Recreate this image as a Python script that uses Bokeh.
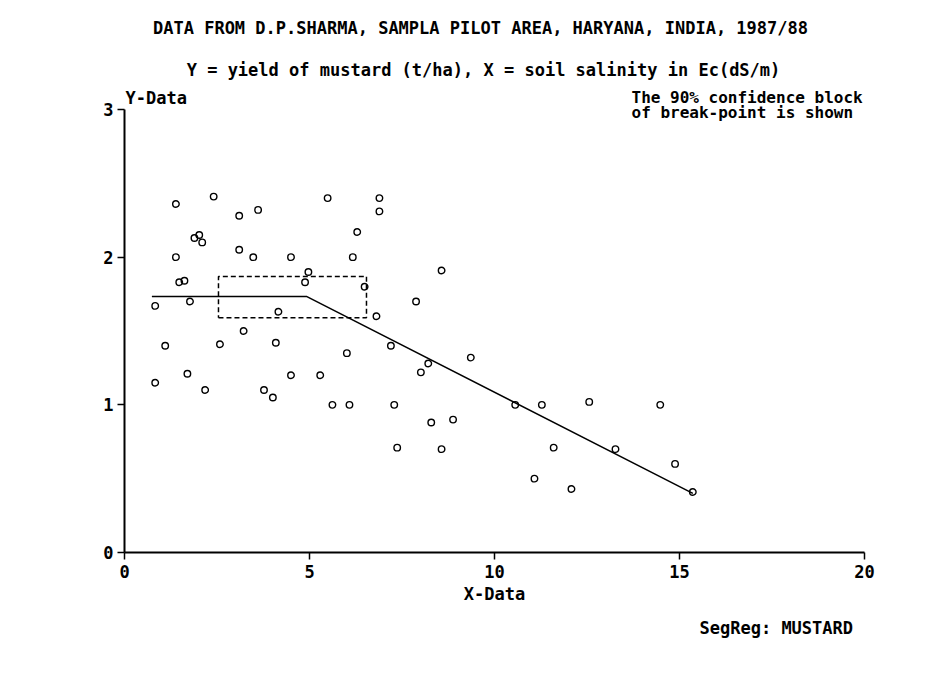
from bokeh.plotting import figure
from bokeh.models import Range1d, Label, FixedTicker, ColumnDataSource, Title
from bokeh.embed import file_html
from bokeh.resources import INLINE

# ---- data ----
salinity = [0.83, 0.83, 1.10, 1.39, 1.39, 1.48, 1.62, 1.77, 1.70, 1.89,
            2.02, 2.10, 2.18, 2.41, 2.58, 3.10, 3.10, 3.22, 3.48, 3.61,
            3.77, 4.01, 4.09, 4.16, 4.50, 4.50, 4.88, 4.97, 5.49, 5.29,
            5.62, 6.01, 6.08, 6.17, 6.29, 6.49, 6.89, 6.89, 6.81, 7.20,
            7.29, 7.37, 7.88, 8.01, 8.21, 8.29, 8.57, 8.57, 8.88, 9.36,
            10.56, 11.08, 11.28, 11.60, 12.08, 12.56, 13.27, 14.48, 14.88, 15.36]
yield_ = [1.67, 1.15, 1.40, 2.36, 2.00, 1.83, 1.84, 1.70, 1.21, 2.13,
          2.15, 2.10, 1.10, 2.41, 1.41, 2.28, 2.05, 1.50, 2.00, 2.32,
          1.10, 1.05, 1.42, 1.63, 2.00, 1.20, 1.83, 1.90, 2.40, 1.20,
          1.00, 1.35, 1.00, 2.00, 2.17, 1.80, 2.40, 2.31, 1.60, 1.40,
          1.00, 0.71, 1.70, 1.22, 1.28, 0.88, 1.91, 0.70, 0.90, 1.32,
          1.00, 0.50, 1.00, 0.71, 0.43, 1.02, 0.70, 1.00, 0.60, 0.41]

# segmented regression line vertices (start, break-point, end)
seg_x = [0.74, 4.93, 15.36]
seg_y = [1.733, 1.733, 0.40]

# 90% confidence block of the break-point
block_x = [2.54, 6.54]
block_y = [1.589, 1.869]

x_ticks = [0, 5, 10, 15, 20]
y_ticks = [0, 1, 2, 3]

title1 = "DATA FROM D.P.SHARMA, SAMPLA PILOT AREA, HARYANA, INDIA, 1987/88"
title2 = "Y = yield of mustard (t/ha), X = soil salinity in Ec(dS/m)"
note1 = "The 90% confidence block"
note2 = "of break-point is shown"
credit = "SegReg: MUSTARD"

FONT = "DejaVu Sans Mono"
FS = "17px"

# frame: x 0..20 spans canvas px 124..864; y=0 at px 552 and y=3 at px 109;
# the frame reaches the top canvas edge so the header texts are not clipped.
Y_MAX = y_ticks[-1] * 552 / (552 - 109)

p = figure(width=937, height=677, output_backend="svg", toolbar_location=None,
           x_range=Range1d(x_ticks[0], x_ticks[-1]), y_range=Range1d(0, Y_MAX),
           min_border_left=124, min_border_right=73,
           min_border_top=0, min_border_bottom=125)
p.background_fill_color = "white"
p.border_fill_color = "white"
p.outline_line_color = None
p.xgrid.visible = False
p.ygrid.visible = False

p.xaxis.ticker = FixedTicker(ticks=x_ticks)
p.yaxis.ticker = FixedTicker(ticks=y_ticks)
p.yaxis.bounds = (y_ticks[0], y_ticks[-1])
for ax in (p.xaxis, p.yaxis):
    ax.axis_line_width = 2
    ax.axis_line_color = "black"
    ax.major_tick_line_color = "black"
    ax.major_tick_line_width = 1.5
    ax.major_tick_in = 0
    ax.major_tick_out = 7
    ax.minor_tick_line_color = None
    ax.major_label_text_font = FONT
    ax.major_label_text_font_style = "bold"
    ax.major_label_text_font_size = FS
    ax.major_label_text_color = "black"
p.xaxis.major_label_standoff = 5
p.yaxis.major_label_standoff = 4
p.xaxis.axis_label = "X-Data"
p.xaxis.axis_label_text_font = FONT
p.xaxis.axis_label_text_font_style = "bold"
p.xaxis.axis_label_text_font_size = FS
p.xaxis.axis_label_text_color = "black"
p.xaxis.axis_label_standoff = 3

# regression line
p.line(seg_x, seg_y, line_color="black", line_width=1.5)

# confidence block
bx = [block_x[0], block_x[1], block_x[1], block_x[0], block_x[0]]
by = [block_y[0], block_y[0], block_y[1], block_y[1], block_y[0]]
p.line(bx, by, line_color="black", line_width=1.5, line_dash="5 3")

# data points
src = ColumnDataSource(dict(x=salinity, y=yield_))
p.scatter("x", "y", source=src, marker="circle", size=6.5,
          fill_color=None, line_color="black", line_width=1.4)

def lab(text, x, y, align="left", size=FS):
    p.add_layout(Label(x=x, y=y, x_units="canvas", y_units="canvas", text=text,
                       text_font=FONT, text_font_style="bold",
                       text_font_size=size, text_color="black",
                       text_align=align, text_baseline="middle"))

lab(title1, 480, 27, "center")
lab(title2, 483, 69, "center")
lab("Y-Data", 125, 97)
lab(note1, 631, 97, size="16px")
lab(note2, 631, 112, size="16px")

p.add_layout(Title(text=credit, align="left", offset=575, standoff=19,
                   text_font=FONT, text_font_style="bold",
                   text_font_size=FS, text_color="black"), "below")

open("out.html", "w").write(file_html(p, INLINE))
